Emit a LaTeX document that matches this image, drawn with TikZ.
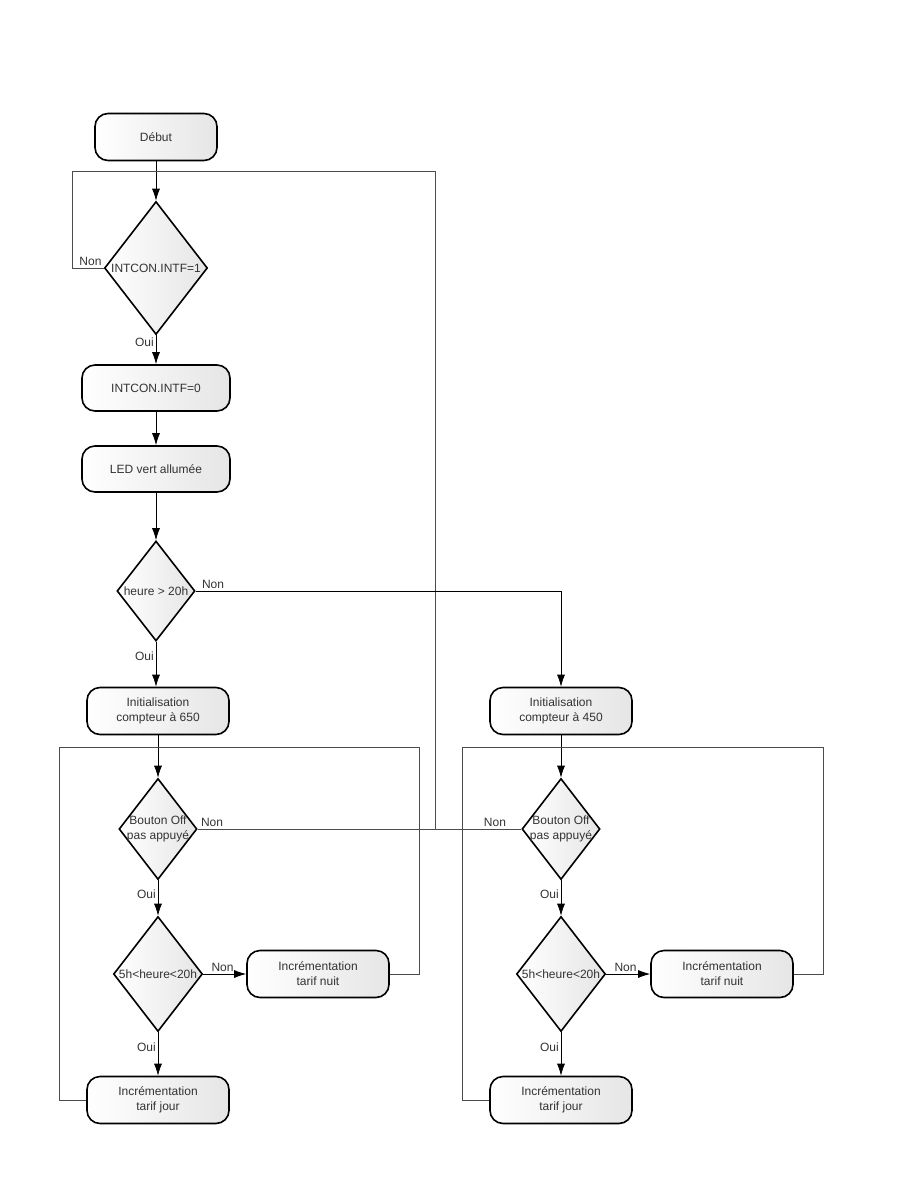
\documentclass[tikz,border=0pt]{standalone}
\usepackage{fontspec}
\setmainfont{Liberation Sans}
\usetikzlibrary{shapes.geometric,arrows.meta}
\newcommand{\petit}{\fontsize{12}{15}\selectfont}
\tikzset{
    etape/.style={draw, line width=1.6pt, rounded corners=13pt, minimum width=142pt, minimum height=47pt,
        left color=white, right color=black!10, align=center, font=\petit, text=black!80},
    test/.style={draw, diamond, line width=1.6pt, inner sep=0pt, left color=white, right color=black!10},
    every label/.style={font=\petit, text=black!80, align=center},
    fleche/.style={draw=black, line width=0.8pt, -{Latex[length=12pt,width=8pt]}},
    lien/.style={draw=black!70, line width=0.8pt},
    rep/.style={font=\petit, text=black!80, inner sep=2pt}
}

\begin{document}
\begin{tikzpicture}[x=1pt, y=-1pt]
    \useasboundingbox (0,0) rectangle (900,1200);
    \node[etape, minimum width=122pt] (debut) at (156,137) {Début};
    \node[test, minimum width=103pt, minimum height=133pt, label={center:INTCON.INTF=1}] (d1) at (156,268) {};
    \node[etape, minimum width=148pt, minimum height=46pt] (b1) at (156,388) {INTCON.INTF=0};
    \node[etape, minimum width=148pt, minimum height=46pt] (b2) at (156,469) {LED vert allumée};
    \node[test, minimum width=78pt, minimum height=100pt, label={center:heure > 20h}] (d2) at (156,591) {};
    \node[etape] (initG) at (158,711) {Initialisation\\compteur à 650};
    \node[etape] (initD) at (561,711) {Initialisation\\compteur à 450};
    \node[test, minimum width=78pt, minimum height=101pt, label={center:Bouton Off\\pas appuyé}] (offG) at (158,829) {};
    \node[test, minimum width=78pt, minimum height=101pt, label={center:Bouton Off\\pas appuyé}] (offD) at (561,829) {};
    \node[test, minimum width=89pt, minimum height=115pt, label={center:5h<heure<20h}] (hG) at (158,974) {};
    \node[test, minimum width=89pt, minimum height=115pt, label={center:5h<heure<20h}] (hD) at (561,974) {};
    \node[etape] (nuitG) at (318,974) {Incrémentation\\tarif nuit};
    \node[etape] (nuitD) at (722,974) {Incrémentation\\tarif nuit};
    \node[etape] (jourG) at (158,1100) {Incrémentation\\tarif jour};
    \node[etape] (jourD) at (561,1100) {Incrémentation\\tarif jour};
    \coordinate (retour) at (435,829);
    \draw [fleche] (debut) -- (d1);
    \draw [lien] (d1.west) -| (72,171) -- (435,171) -- (retour);
    \draw [lien] (offG.east) -- (retour) -- (offD.west);
    \draw [fleche] (d1) -- (b1);
    \draw [fleche] (b1) -- (b2);
    \draw [fleche] (b2) -- (d2);
    \draw [fleche] (d2) -- (d2 |- initG.north);
    \draw [fleche] (d2.east) -| (initD);
    \draw [fleche] (initG) -- (offG);
    \draw [fleche] (initD) -- (offD);
    \draw [fleche] (offG) -- (hG);
    \draw [fleche] (offD) -- (hD);
    \draw [fleche] (hG) -- (nuitG);
    \draw [fleche] (hD) -- (nuitD);
    \draw [fleche] (hG) -- (jourG);
    \draw [fleche] (hD) -- (jourD);
    \draw [lien] (jourG.west) -| (59,747) -- (419,747) |- (nuitG.east);
    \draw [lien] (jourD.west) -| (462,747) -- (823,747) |- (nuitD.east);
    \node[rep, anchor=south east] (n1) at (d1.west) {Non};
    \node[rep, anchor=north east] (o1) at (d1.south) {Oui};
    \node[rep, anchor=south west] (n2) at ([xshift=4pt]d2.east) {Non};
    \node[rep, anchor=north east] (o2) at ([yshift=-8pt]d2.south) {Oui};
    \node[rep, anchor=south west] (n3) at ([xshift=1pt]offG.east) {Non};
    \node[rep, anchor=north east] (o3) at ([yshift=-7pt]offG.south) {Oui};
    \node[rep, anchor=south east] (n4) at ([xshift=-13pt]offD.west) {Non};
    \node[rep, anchor=north east] (o4) at ([yshift=-7pt]offD.south) {Oui};
    \node[rep, anchor=south west] (n5) at ([xshift=6pt]hG.east) {Non};
    \node[rep, anchor=north east] (o5) at ([yshift=-8pt]hG.south) {Oui};
    \node[rep, anchor=south west] (n6) at ([xshift=6pt]hD.east) {Non};
    \node[rep, anchor=north east] (o6) at ([yshift=-8pt]hD.south) {Oui};
\end{tikzpicture}
\end{document}
